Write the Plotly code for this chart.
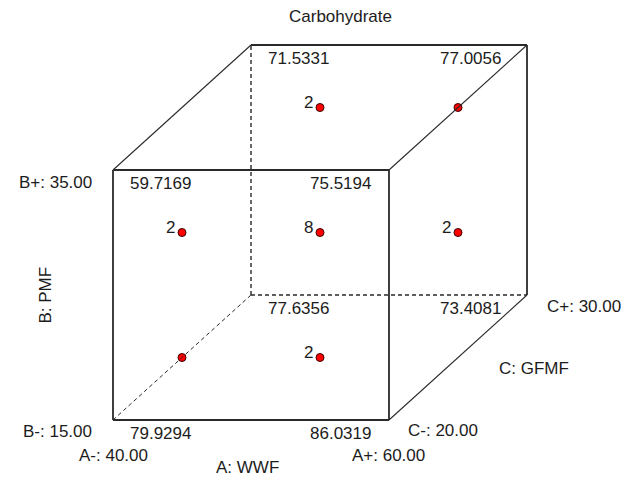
import plotly.graph_objects as go

# ---------------- data ----------------
title = "Carbohydrate"
factor_names = ["A: WWF", "B: PMF", "C: GFMF"]
A_levels = [40.00, 60.00]
B_levels = [15.00, 35.00]
C_levels = [20.00, 30.00]

corner_A = [-1, 1, -1, 1, -1, 1, -1, 1]
corner_B = [-1, -1, 1, 1, -1, -1, 1, 1]
corner_C = [-1, -1, -1, -1, 1, 1, 1, 1]
corner_values = [79.9294, 86.0319, 59.7169, 75.5194, 77.6356, 73.4081, 71.5331, 77.0056]

point_A = [0, -1, 1, 0, 0, -1, 1]
point_B = [0, 0, 0, 1, -1, -1, 1]
point_C = [0, 0, 0, 0, 0, 0, 0]
point_counts = [8, 2, 2, 2, 2, 1, 1]

# ---------------- projection (cavalier cube) ----------------
ORIGIN = (113, 420)
VA = (276, 0)
VB = (0, -250)
VC = (138, -125)


def proj(a, b, c):
    fa, fb, fc = (a + 1) / 2, (b + 1) / 2, (c + 1) / 2
    x = ORIGIN[0] + fa * VA[0] + fb * VB[0] + fc * VC[0]
    y = ORIGIN[1] + fa * VA[1] + fb * VB[1] + fc * VC[1]
    return x, y


FONT = dict(family="Liberation Sans, Arial, sans-serif", size=17, color="#1c1c1c")
LINE = "#2a2a2a"

fig = go.Figure()

# edges
corners = [(a, b, c) for a in (-1, 1) for b in (-1, 1) for c in (-1, 1)]
hidden = (-1, -1, 1)
for i, p in enumerate(corners):
    for q in corners[i + 1:]:
        diff = [k for k, (u, v) in enumerate(zip(p, q)) if u != v]
        if len(diff) != 1:
            continue
        x0, y0 = proj(*p)
        x1, y1 = proj(*q)
        dashed = p == hidden or q == hidden
        depth = diff[0] == 2
        if dashed:
            w = 1 if depth else 1.4
        else:
            w = 1.1 if depth else 1.8
        fig.add_shape(type="line", x0=x0, y0=y0, x1=x1, y1=y1, xref="x", yref="y",
                      line=dict(color=LINE, width=w,
                                dash="4px,3px" if dashed else "solid"))

# design points
px, py = zip(*[proj(a, b, c) for a, b, c in zip(point_A, point_B, point_C)])
fig.add_trace(go.Scatter(x=px, y=py, mode="markers", hoverinfo="skip",
                         marker=dict(size=8, color="#ff0000",
                                     line=dict(color="#3a0000", width=1))))
for x, y, n in zip(px, py, point_counts):
    if n > 1:
        fig.add_annotation(x=x - 5, y=y - 5, text=str(n), showarrow=False,
                           xanchor="right", yanchor="middle", font=FONT)

# corner response labels
for a, b, c, v in zip(corner_A, corner_B, corner_C, corner_values):
    x, y = proj(a, b, c)
    if a < 0:
        dx = 47.5
    else:
        dx = -49 if c < 0 else -57
    fig.add_annotation(x=x + dx, y=y + 13, text=f"{v:.4f}", showarrow=False,
                       xanchor="center", yanchor="middle", font=FONT)

# factor level labels
xa0, ya0 = proj(-1, -1, -1)
xa1, _ = proj(1, -1, -1)
_, yb1 = proj(-1, 1, -1)
xc1, yc1 = proj(1, -1, 1)

fig.add_annotation(x=xa0 - 19, y=yb1 + 12, text=f"B+: {B_levels[1]:.2f}", showarrow=False,
                   xanchor="right", yanchor="middle", font=FONT)
fig.add_annotation(x=xa0 - 19, y=ya0 + 11, text=f"B-: {B_levels[0]:.2f}", showarrow=False,
                   xanchor="right", yanchor="middle", font=FONT)
fig.add_annotation(x=xa0, y=ya0 + 35, text=f"A-: {A_levels[0]:.2f}", showarrow=False,
                   xanchor="center", yanchor="middle", font=FONT)
fig.add_annotation(x=xa1 - 1, y=ya0 + 35, text=f"A+: {A_levels[1]:.2f}", showarrow=False,
                   xanchor="center", yanchor="middle", font=FONT)
fig.add_annotation(x=(xa0 + xa1) / 2 - 3.5, y=ya0 + 47.5, text=factor_names[0], showarrow=False,
                   xanchor="center", yanchor="middle", font=FONT)
fig.add_annotation(x=44.5, y=(ya0 + yb1) / 2, text=factor_names[1], showarrow=False,
                   textangle=-90, xanchor="center", yanchor="middle", font=FONT)
fig.add_annotation(x=xa1 + 17, y=ya0 + 10, text=f"C-: {C_levels[0]:.2f}", showarrow=False,
                   xanchor="left", yanchor="middle", font=FONT)
fig.add_annotation(x=xc1 + 18, y=yc1 + 11, text=f"C+: {C_levels[1]:.2f}", showarrow=False,
                   xanchor="left", yanchor="middle", font=FONT)
fig.add_annotation(x=534, y=368, text=factor_names[2], showarrow=False,
                   xanchor="center", yanchor="middle", font=FONT)
fig.add_annotation(x=340.5, y=16, text=title, showarrow=False,
                   xanchor="center", yanchor="middle", font=FONT)

fig.update_layout(
    width=641, height=482,
    margin=dict(l=0, r=0, t=0, b=0),
    paper_bgcolor="white", plot_bgcolor="white",
    showlegend=False,
    xaxis=dict(range=[0, 641], visible=False, fixedrange=True),
    yaxis=dict(range=[482, 0], visible=False, fixedrange=True),
)

fig.write_html("out.html", config={"displayModeBar": False})
